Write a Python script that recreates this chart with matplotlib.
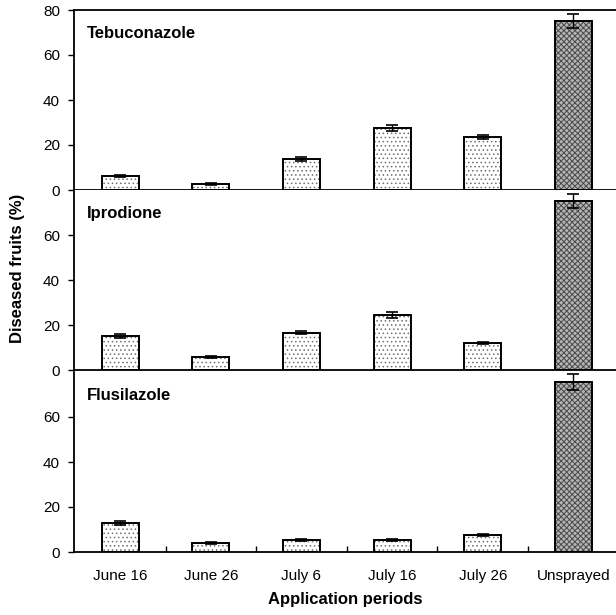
import numpy as np
import matplotlib.pyplot as plt

plt.rcParams['font.family'] = ['Liberation Sans', 'DejaVu Sans']

# --- data ---
periods = ['June 16', 'June 26', 'July 6', 'July 16', 'July 26', 'Unsprayed']
fungicides = ['Tebuconazole', 'Iprodione', 'Flusilazole']

tebu_mean = [6.2, 2.7, 13.8, 27.6, 23.6, 75.2]
tebu_err = [0.4, 0.3, 0.7, 1.2, 1.0, 3.1]
ipro_mean = [15.1, 5.8, 16.6, 24.4, 12.0, 75.0]
ipro_err = [0.8, 0.4, 0.8, 1.3, 0.5, 3.2]
flus_mean = [12.9, 4.0, 5.3, 5.3, 7.6, 75.4]
flus_err = [0.8, 0.3, 0.3, 0.3, 0.5, 3.5]

means = [tebu_mean, ipro_mean, flus_mean]
errs = [tebu_err, ipro_err, flus_err]

fig = plt.figure(figsize=(6.16, 6.15), dpi=100)

left, width, height = 74 / 616, 1 - 74 / 616, 180 / 615
bottoms = [1 - 190 / 615, 1 - 370 / 615, 1 - 552 / 615]

x = np.arange(len(periods))
bw = 0.41
for i, (name, m, e, b) in enumerate(zip(fungicides, means, errs, bottoms)):
    ax = fig.add_axes([left, b, width, height])
    # hatch fill first (hatch takes the edge colour), outline drawn on top
    light = ax.bar(x[:-1], m[:-1], width=bw, facecolor='white', edgecolor='#707070',
                   linewidth=0, hatch='....', zorder=2)
    dark = ax.bar(x[-1:], m[-1:], width=bw, facecolor='#b4b4b4', edgecolor='#4a4a4a',
                  linewidth=0, hatch='xxxxxx', zorder=2)
    for p in light:
        p.set_hatch_linewidth(0.6)
    for p in dark:
        p.set_hatch_linewidth(0.7)
    ax.bar(x, m, width=bw, fill=False, edgecolor='black', linewidth=1.4, zorder=2.5)
    ax.errorbar(x, m, yerr=e, fmt='none', ecolor='black', elinewidth=1.0,
                capsize=4, capthick=1.2, zorder=3, clip_on=False)
    ax.set_xlim(-0.51, 5.47)
    ax.set_ylim(0, 80)
    ax.spines['right'].set_visible(False)
    ax.spines['left'].set_linewidth(1.3)
    ax.spines['bottom'].set_linewidth(1.3)
    if i == 0:
        ax.set_yticks([0, 20, 40, 60, 80])
        ax.spines['top'].set_linewidth(1.3)
    else:
        ax.set_yticks([0, 20, 40, 60])
        ax.spines['top'].set_visible(False)
    ax.tick_params(axis='y', direction='out', length=4, width=1, labelsize=11, pad=6)
    ax.text(0.024, 0.867, name, transform=ax.transAxes, fontsize=12,
            fontweight='bold', va='center', ha='left')
    if i < 2:
        ax.set_xticks([])
    else:
        ax.set_xticks(x)
        ax.set_xticklabels(periods)
        ax.set_xticks(x[:-1] + 0.5, minor=True)
        ax.tick_params(axis='x', which='major', length=0, labelsize=11, pad=12)
        ax.tick_params(axis='x', which='minor', direction='in', length=4, width=1)

fig.text(0.029, 0.563, 'Diseased fruits (%)', rotation=90, fontsize=12,
         fontweight='bold', ha='center', va='center')
fig.text(0.56, 0.025, 'Application periods', fontsize=12, fontweight='bold',
         ha='center', va='center')

fig.savefig('out.png', dpi=100)
